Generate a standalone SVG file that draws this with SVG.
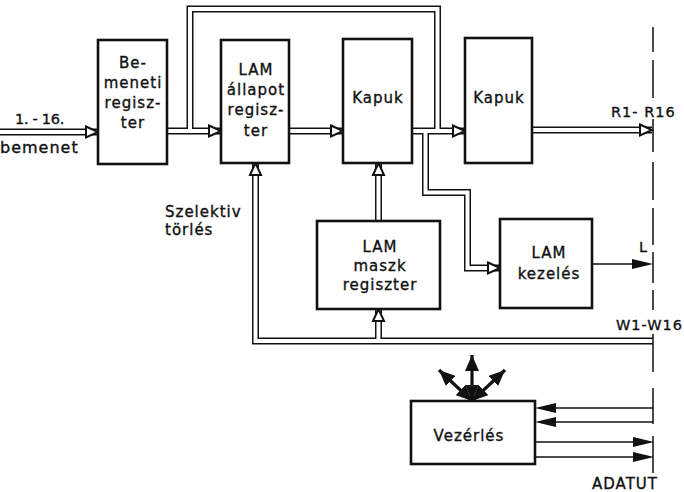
<svg xmlns="http://www.w3.org/2000/svg" width="684" height="492" viewBox="0 0 684 492">
<defs>
<style>
.box{fill:#fff;stroke:#111;stroke-width:2.6}
.bo{fill:none;stroke:#111;stroke-width:7;stroke-linejoin:miter}
.bi{fill:none;stroke:#fff;stroke-width:4;stroke-linejoin:miter}
.ln{fill:none;stroke:#111;stroke-width:1.4}
.dl{fill:none;stroke:#111;stroke-width:1.5}
.fan{fill:none;stroke:#111;stroke-width:3.2;marker-start:url(#fh);marker-end:url(#fh)}
text{font-family:"DejaVu Sans","Liberation Sans",sans-serif;font-size:15px;fill:#111;stroke:#111;stroke-width:0.35;letter-spacing:1px}
.c{text-anchor:middle}
.s{font-size:14.5px}
</style>
<polygon id="ha" points="-12,-5.5 0,0 -12,5.5" fill="#fff" stroke="#111" stroke-width="2"/>
<polygon id="fa" points="-21,-5 0,0 -21,5" fill="#111"/>
<marker id="fh" markerUnits="userSpaceOnUse" markerWidth="17" markerHeight="14" refX="16" refY="7" orient="auto-start-reverse">
<path d="M0,0 L16,7 L0,14 z" fill="#111"/>
</marker>
</defs>
<rect width="684" height="492" fill="#fff"/>

<g id="connectors">
<g class="bo">
<path d="M0,132 H98"/>
<path d="M167,131 H221"/>
<path d="M190,131 V9 H437.5 V131"/>
<path d="M289,131 H343"/>
<path d="M412,131 H465"/>
<path d="M425.5,131 V192.5 H467.5 V268 H500"/>
<path d="M532,130 H652"/>
<path d="M378.5,221 V163"/>
<path d="M653,341 H255.5 V163"/>
<path d="M378.5,341 V309"/>
</g>
<g class="bi">
<path d="M0,132 H98"/>
<path d="M167,131 H221"/>
<path d="M190,131 V9 H437.5 V131"/>
<path d="M289,131 H343"/>
<path d="M412,131 H465"/>
<path d="M425.5,131 V192.5 H467.5 V268 H500"/>
<path d="M532,130 H652"/>
<path d="M378.5,221 V163"/>
<path d="M653,341 H255.5 V163"/>
<path d="M378.5,341 V309"/>
</g>
<use href="#ha" transform="translate(98,132)"/>
<use href="#ha" transform="translate(221,131)"/>
<use href="#ha" transform="translate(343,131)"/>
<use href="#ha" transform="translate(465,131)"/>
<use href="#ha" transform="translate(500,268)"/>
<use href="#ha" transform="translate(652,130)"/>
<use href="#ha" transform="translate(378.5,163) rotate(-90)"/>
<use href="#ha" transform="translate(255.5,163) rotate(-90)"/>
<use href="#ha" transform="translate(378.5,309) rotate(-90)"/>

<path class="ln" d="M592,264 H640"/>
<use href="#fa" transform="translate(653,264)"/>
<path class="ln" d="M653,408 H550 M653,422 H550 M535,442 H640 M535,457 H640"/>
<use href="#fa" transform="translate(535,408) rotate(180)"/>
<use href="#fa" transform="translate(535,422) rotate(180)"/>
<use href="#fa" transform="translate(654,442)"/>
<use href="#fa" transform="translate(654,457)"/>

<path class="fan" d="M472,401 L472,355"/>
<path class="fan" d="M472,401 L439,370"/>
<path class="fan" d="M472,401 L505,370"/>

<path class="dl" d="M653,27 V52 M653,60 V98 M653,119 V152 M653,162 V200 M653,208 V245 M653,252 V283 M653,290 V310 M653,334 V372 M653,388 V424 M653,436 V473"/>
</g>

<g id="bemeneti">
<rect class="box" x="98" y="40" width="69" height="124"/>
<text class="c" x="133" y="68">Be-</text>
<text class="c" x="133" y="88">meneti</text>
<text class="c" x="133" y="108">regisz-</text>
<text class="c" x="133" y="128">ter</text>
</g>
<g id="lam_allapot">
<rect class="box" x="221" y="40" width="68" height="123"/>
<text class="c" x="256" y="75">LAM</text>
<text class="c" x="256" y="95">állapot</text>
<text class="c" x="256" y="115">regisz-</text>
<text class="c" x="256" y="136">ter</text>
</g>
<g id="kapuk1">
<rect class="box" x="343" y="39" width="69" height="124"/>
<text class="c" x="378" y="103">Kapuk</text>
</g>
<g id="kapuk2">
<rect class="box" x="465" y="38" width="67" height="125"/>
<text class="c" x="499" y="103">Kapuk</text>
</g>
<g id="lam_maszk">
<rect class="box" x="317" y="221" width="123" height="88"/>
<text class="c" x="380" y="252">LAM</text>
<text class="c" x="380" y="271">maszk</text>
<text class="c" x="380" y="290">regiszter</text>
</g>
<g id="lam_kezeles">
<rect class="box" x="500" y="219" width="92" height="89"/>
<text class="c" x="549" y="258">LAM</text>
<text class="c" x="549" y="279">kezelés</text>
</g>
<g id="vezerles">
<rect class="box" x="411" y="401" width="124" height="63"/>
<text class="c" x="469" y="441">Vezérlés</text>
</g>

<g id="labels">
<text class="s" x="15" y="124" style="letter-spacing:-0.3px">1. - 16.</text>
<text x="0" y="153" style="font-size:16px">bemenet</text>
<text x="165" y="217">Szelektiv</text>
<text x="165" y="235">törlés</text>
<text class="s" x="611" y="117">R1- R16</text>
<text class="s" x="639" y="252">L</text>
<text class="s" x="616" y="330">W1-W16</text>
<text class="s" x="592" y="489" style="font-size:15px">ADATUT</text>
</g>
</svg>
